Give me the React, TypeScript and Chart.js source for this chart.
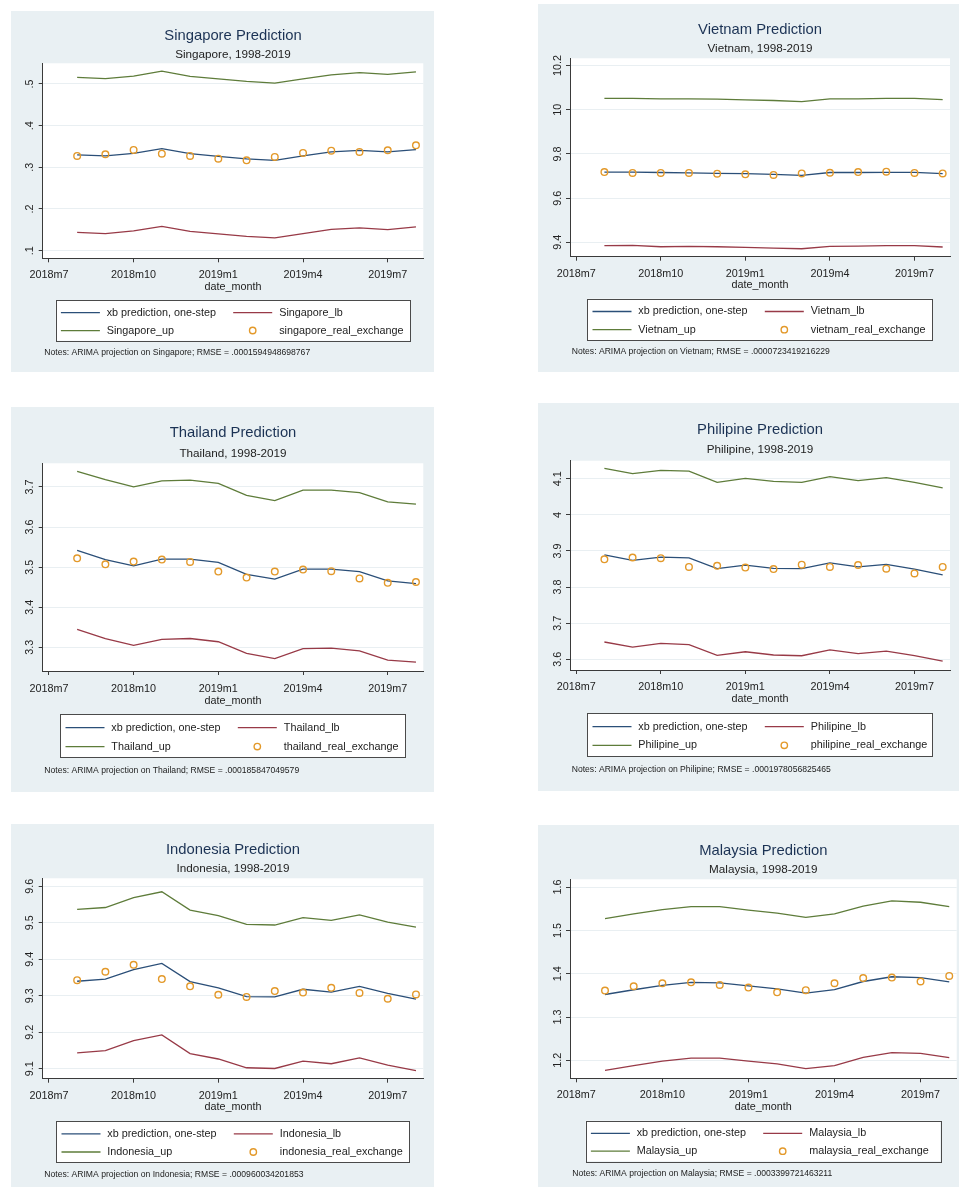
import React, { useEffect, useRef } from "react";
import { Chart, registerables } from "chart.js";

Chart.register(...registerables);

// ---------------- DATA ----------------
const months = ["2018m8", "2018m9", "2018m10", "2018m11", "2018m12", "2019m1", "2019m2", "2019m3", "2019m4", "2019m5", "2019m6", "2019m7", "2019m8"];
const xTickLabels = ["2018m7", "2018m10", "2019m1", "2019m4", "2019m7"];
const xTitle = "date_month";

const singaporeXb = [0.3296, 0.3272, 0.3336, 0.3448, 0.3328, 0.3264, 0.32, 0.3168, 0.3272, 0.3368, 0.3408, 0.3368, 0.3424];
const singaporeLb = [0.144, 0.1408, 0.1472, 0.1584, 0.1464, 0.14, 0.1344, 0.1304, 0.1408, 0.1512, 0.1544, 0.1504, 0.1568];
const singaporeUp = [0.516, 0.513, 0.519, 0.531, 0.518, 0.512, 0.506, 0.502, 0.512, 0.522, 0.527, 0.523, 0.529];
const singaporeReal = [0.3272, 0.3312, 0.3416, 0.3328, 0.3272, 0.3208, 0.3168, 0.3248, 0.3344, 0.34, 0.3368, 0.3408, 0.3528];
const singaporeYTicks = [".1", ".2", ".3", ".4", ".5"];

const vietnamXb = [9.718, 9.718, 9.716, 9.714, 9.712, 9.711, 9.708, 9.703, 9.716, 9.716, 9.717, 9.717, 9.711];
const vietnamLb = [9.385, 9.386, 9.38, 9.382, 9.38, 9.377, 9.374, 9.371, 9.382, 9.383, 9.385, 9.385, 9.379];
const vietnamUp = [10.052, 10.052, 10.049, 10.049, 10.048, 10.045, 10.042, 10.037, 10.049, 10.049, 10.052, 10.052, 10.046];
const vietnamReal = [9.718, 9.714, 9.714, 9.714, 9.711, 9.708, 9.705, 9.712, 9.715, 9.718, 9.72, 9.714, 9.712];
const vietnamYTicks = ["9.4", "9.6", "9.8", "10", "10.2"];

const thailandXb = [3.542, 3.519, 3.503, 3.52, 3.52, 3.512, 3.482, 3.47, 3.495, 3.495, 3.489, 3.466, 3.459];
const thailandLb = [3.345, 3.322, 3.305, 3.32, 3.322, 3.314, 3.285, 3.272, 3.297, 3.298, 3.291, 3.268, 3.263];
const thailandUp = [3.739, 3.718, 3.7, 3.715, 3.717, 3.709, 3.679, 3.666, 3.692, 3.692, 3.686, 3.663, 3.657];
const thailandReal = [3.522, 3.507, 3.514, 3.519, 3.513, 3.489, 3.474, 3.489, 3.494, 3.49, 3.472, 3.461, 3.463];
const thailandYTicks = ["3.3", "3.4", "3.5", "3.6", "3.7"];

const philipineXb = [3.889, 3.874, 3.883, 3.881, 3.851, 3.861, 3.852, 3.851, 3.867, 3.856, 3.863, 3.85, 3.834];
const philipineLb = [3.648, 3.634, 3.644, 3.641, 3.611, 3.621, 3.612, 3.61, 3.626, 3.616, 3.623, 3.61, 3.595];
const philipineUp = [4.129, 4.114, 4.123, 4.121, 4.09, 4.101, 4.093, 4.09, 4.106, 4.095, 4.103, 4.09, 4.075];
const philipineReal = [3.877, 3.882, 3.88, 3.856, 3.859, 3.854, 3.85, 3.862, 3.856, 3.861, 3.851, 3.838, 3.856];
const philipineYTicks = ["3.6", "3.7", "3.8", "3.9", "4", "4.1"];

const indonesiaXb = [9.34, 9.346, 9.372, 9.389, 9.339, 9.322, 9.298, 9.297, 9.318, 9.31, 9.326, 9.307, 9.291];
const indonesiaLb = [9.144, 9.15, 9.177, 9.193, 9.142, 9.127, 9.103, 9.101, 9.121, 9.114, 9.13, 9.11, 9.095];
const indonesiaUp = [9.537, 9.542, 9.569, 9.585, 9.535, 9.52, 9.496, 9.494, 9.514, 9.507, 9.522, 9.502, 9.488];
const indonesiaReal = [9.343, 9.366, 9.385, 9.346, 9.326, 9.303, 9.297, 9.313, 9.309, 9.322, 9.308, 9.292, 9.304];
const indonesiaYTicks = ["9.1", "9.2", "9.3", "9.4", "9.5", "9.6"];

const malaysiaXb = [1.352, 1.363, 1.373, 1.38, 1.379, 1.372, 1.365, 1.355, 1.363, 1.382, 1.393, 1.391, 1.381];
const malaysiaLb = [1.177, 1.188, 1.198, 1.205, 1.205, 1.198, 1.192, 1.181, 1.188, 1.207, 1.218, 1.216, 1.206];
const malaysiaUp = [1.527, 1.538, 1.548, 1.555, 1.555, 1.547, 1.54, 1.53, 1.538, 1.556, 1.568, 1.565, 1.555];
const malaysiaReal = [1.361, 1.371, 1.378, 1.38, 1.374, 1.368, 1.357, 1.362, 1.378, 1.39, 1.391, 1.382, 1.395];
const malaysiaYTicks = ["1.2", "1.3", "1.4", "1.5", "1.6"];

const panels = [
  { key: "sg", title: "Singapore Prediction", subtitle: "Singapore, 1998-2019", names: ["xb prediction, one-step", "Singapore_lb", "Singapore_up", "singapore_real_exchange"], note: "Notes: ARIMA projection on Singapore; RMSE = .0001594948698767", xb: singaporeXb, lb: singaporeLb, up: singaporeUp, real: singaporeReal, yTicks: singaporeYTicks, yMin: 0.0816, yMax: 0.5496 },
  { key: "vn", title: "Vietnam Prediction", subtitle: "Vietnam, 1998-2019", names: ["xb prediction, one-step", "Vietnam_lb", "Vietnam_up", "vietnam_real_exchange"], note: "Notes: ARIMA projection on Vietnam; RMSE = .0000723419216229", xb: vietnamXb, lb: vietnamLb, up: vietnamUp, real: vietnamReal, yTicks: vietnamYTicks, yMin: 9.335, yMax: 10.233 },
  { key: "th", title: "Thailand Prediction", subtitle: "Thailand, 1998-2019", names: ["xb prediction, one-step", "Thailand_lb", "Thailand_up", "thailand_real_exchange"], note: "Notes: ARIMA projection on Thailand; RMSE = .000185847049579", xb: thailandXb, lb: thailandLb, up: thailandUp, real: thailandReal, yTicks: thailandYTicks, yMin: 3.241, yMax: 3.759 },
  { key: "ph", title: "Philipine Prediction", subtitle: "Philipine, 1998-2019", names: ["xb prediction, one-step", "Philipine_lb", "Philipine_up", "philipine_real_exchange"], note: "Notes: ARIMA projection on Philipine; RMSE = .0001978056825465", xb: philipineXb, lb: philipineLb, up: philipineUp, real: philipineReal, yTicks: philipineYTicks, yMin: 3.5705, yMax: 4.15 },
  { key: "id", title: "Indonesia Prediction", subtitle: "Indonesia, 1998-2019", names: ["xb prediction, one-step", "Indonesia_lb", "Indonesia_up", "indonesia_real_exchange"], note: "Notes: ARIMA projection on Indonesia; RMSE = .000960034201853", xb: indonesiaXb, lb: indonesiaLb, up: indonesiaUp, real: indonesiaReal, yTicks: indonesiaYTicks, yMin: 9.073, yMax: 9.622 },
  { key: "my", title: "Malaysia Prediction", subtitle: "Malaysia, 1998-2019", names: ["xb prediction, one-step", "Malaysia_lb", "Malaysia_up", "malaysia_real_exchange"], note: "Notes: ARIMA projection on Malaysia; RMSE = .0003399721463211", xb: malaysiaXb, lb: malaysiaLb, up: malaysiaUp, real: malaysiaReal, yTicks: malaysiaYTicks, yMin: 1.1585, yMax: 1.618 },
];

// ---------------- LAYOUT (positions / sizes) ----------------
const LAYOUT: Record<string, any> = {
  sg: { bg: { x: 11, y: 11, w: 423, h: 361 }, plot: { l: 31.7, t: 52.3, r: 412.3, b: 247.3 }, titleY: 23.3, subY: 43.3, xLabY: 263, xTitleY: 275.7, legend: { l: 44.7, t: 289, r: 399, b: 329.7 }, notes: { x: 33.3, y: 341.3 } },
  vn: { bg: { x: 538, y: 4, w: 421, h: 368 }, plot: { l: 32, t: 54.3, r: 412, b: 252.7 }, titleY: 24.3, subY: 45, xLabY: 268.7, xTitleY: 281, legend: { l: 49.3, t: 294.7, r: 394, b: 336 }, notes: { x: 33.7, y: 348 } },
  th: { bg: { x: 11, y: 407, w: 423, h: 385 }, plot: { l: 31.7, t: 56.3, r: 412.3, b: 264 }, titleY: 24.7, subY: 46.3, xLabY: 280.3, xTitleY: 293.7, legend: { l: 49.3, t: 307.3, r: 394, b: 350.3 }, notes: { x: 33.3, y: 363.7 } },
  ph: { bg: { x: 538, y: 403, w: 421, h: 388 }, plot: { l: 32, t: 57.7, r: 412, b: 267 }, titleY: 25.3, subY: 47, xLabY: 283, xTitleY: 296, legend: { l: 49.3, t: 310.3, r: 394, b: 353 }, notes: { x: 33.7, y: 366.7 } },
  id: { bg: { x: 11, y: 824, w: 423, h: 363 }, plot: { l: 31.7, t: 54.3, r: 412.3, b: 254.7 }, titleY: 24.3, subY: 44.7, xLabY: 270.7, xTitleY: 283, legend: { l: 45.3, t: 297, r: 398.3, b: 338.3 }, notes: { x: 33.3, y: 351 } },
  my: { bg: { x: 538, y: 825, w: 421, h: 362 }, plot: { l: 32, t: 54.3, r: 418.7, b: 253.3 }, titleY: 24, subY: 44.3, xLabY: 269, xTitleY: 281.7, legend: { l: 47.7, t: 295.7, r: 402.3, b: 336.3 }, notes: { x: 34.3, y: 348.3 } },
};

const X_MIN = -0.22;
const X_MAX = 13.26;

const FONT = "'Liberation Sans', Arial, Helvetica, sans-serif";
const BG = "#e9f0f3";
const TITLE_COLOR = "#1b3254";
const TEXT = "#222222";
const AXIS = "#3a3a3a";
const GRID = "#e9eff2";
const NAVY = "#2b4f78";
const MAROON = "#983a47";
const GREEN = "#5e7c3a";
const ORANGE = "#e3992a";

const TITLE_SIZE = 14.8;
const SUB_SIZE = 11.7;
const TICK_SIZE = 10.8;
const NOTE_SIZE = 8.6;
const TICK_LEN = 4;
const TITLE_SHIFT = 1.6;
const XLAB_SHIFT = 1.5;

function monthIndex(s: string): number {
  const [y, m] = s.split("m").map(Number);
  return (y - 2018) * 12 + m - 7;
}

function PanelChart({ p }: { p: any }) {
  const ref = useRef<HTMLCanvasElement>(null);
  const g = LAYOUT[p.key];

  useEffect(() => {
    const canvas = ref.current as HTMLCanvasElement;
    const toPts = (vals: number[]) => months.map((m, i) => ({ x: monthIndex(m), y: vals[i] }));

    const titleLh = TITLE_SIZE * 1.2;
    const subLh = SUB_SIZE * 1.2;
    const tickLh = TICK_SIZE * 1.2;
    const titleY = g.titleY + TITLE_SHIFT;
    const titlePadTop = titleY - titleLh / 2;
    const titleBottom = titleY + titleLh / 2;
    const subPadTop = Math.max(0, g.subY - subLh / 2 - titleBottom);
    const subPadBottom = g.plot.t - (titleBottom + subPadTop + subLh);
    const xScaleH = g.xTitleY + tickLh / 2 - g.plot.b;
    const xTickPad = g.xLabY + XLAB_SHIFT - tickLh / 2 - TICK_LEN - g.plot.b;
    const padBottom = g.bg.h - g.plot.b - xScaleH;
    const padRight = g.bg.w - g.plot.r;

    const deco = {
      id: "deco",
      beforeDraw(chart: any) {
        const ctx = chart.ctx;
        const a = chart.chartArea;
        ctx.save();
        ctx.fillStyle = BG;
        ctx.fillRect(0, 0, chart.width, chart.height);
        ctx.fillStyle = "#ffffff";
        ctx.fillRect(a.left, a.top, a.right - a.left, a.bottom - a.top);
        ctx.restore();
      },
      afterDraw(chart: any) {
        const ctx = chart.ctx;
        const ys = chart.scales.y;
        const a = chart.chartArea;
        ctx.save();
        // rotated y tick labels (Stata style)
        ctx.font = `${TICK_SIZE}px ${FONT}`;
        ctx.fillStyle = TEXT;
        ctx.textAlign = "center";
        ctx.textBaseline = "middle";
        p.yTicks.forEach((lab: string) => {
          const py = ys.getPixelForValue(parseFloat(lab));
          ctx.save();
          ctx.translate(a.left - 12.3, py);
          ctx.rotate(-Math.PI / 2);
          ctx.fillText(lab, 0, 0);
          ctx.restore();
        });
        // legend box
        const L = g.legend;
        ctx.fillStyle = "#ffffff";
        ctx.fillRect(L.l, L.t, L.r - L.l, L.b - L.t);
        ctx.strokeStyle = "#4a4a4a";
        ctx.lineWidth = 1;
        ctx.strokeRect(Math.round(L.l) + 0.5, Math.round(L.t) + 0.5, Math.round(L.r - L.l), Math.round(L.b - L.t));
        const rows = [L.t + (L.b - L.t) * 0.31, L.t + (L.b - L.t) * 0.75];
        chart.data.datasets.forEach((ds: any, i: number) => {
          const row = rows[Math.floor(i / 2)];
          const col = i % 2;
          const x0 = L.l + (col ? 177.5 : 5.2);
          const x1 = x0 + 39;
          const tx = L.l + (col ? 223.5 : 51);
          if (ds.showLine === false) {
            ctx.beginPath();
            ctx.arc(L.l + 197, row, 3.2, 0, Math.PI * 2);
            ctx.strokeStyle = ds.borderColor;
            ctx.lineWidth = 1.4;
            ctx.stroke();
          } else {
            ctx.beginPath();
            ctx.moveTo(x0, row);
            ctx.lineTo(x1, row);
            ctx.strokeStyle = ds.borderColor;
            ctx.lineWidth = 1.3;
            ctx.stroke();
          }
          ctx.fillStyle = TEXT;
          ctx.font = `${TICK_SIZE}px ${FONT}`;
          ctx.textAlign = "left";
          ctx.textBaseline = "middle";
          ctx.fillText(ds.label, tx, row);
        });
        // notes
        ctx.font = `${NOTE_SIZE}px ${FONT}`;
        ctx.fillStyle = TEXT;
        ctx.textAlign = "left";
        ctx.textBaseline = "middle";
        ctx.fillText(p.note, g.notes.x, g.notes.y);
        ctx.restore();
      },
    };

    const lineDs = (label: string, vals: number[], color: string) => ({
      label,
      data: toPts(vals),
      borderColor: color,
      backgroundColor: color,
      borderWidth: 1.3,
      pointRadius: 0,
      fill: false,
      tension: 0,
    });

    const chart = new Chart(canvas, {
      type: "line",
      data: {
        datasets: [
          lineDs(p.names[0], p.xb, NAVY),
          lineDs(p.names[1], p.lb, MAROON),
          lineDs(p.names[2], p.up, GREEN),
          {
            label: p.names[3],
            data: toPts(p.real),
            showLine: false,
            borderColor: ORANGE,
            backgroundColor: "rgba(0,0,0,0)",
            pointRadius: 3.3,
            pointBorderWidth: 1.4,
            pointStyle: "circle",
            order: -1,
          },
        ],
      },
      options: {
        responsive: false,
        animation: false,
        devicePixelRatio: 1,
        events: [],
        layout: { autoPadding: false, padding: { top: 0, left: 0, right: padRight, bottom: padBottom } },
        plugins: {
          legend: { display: false },
          tooltip: { enabled: false },
          title: {
            display: true,
            text: p.title,
            fullSize: false,
            color: TITLE_COLOR,
            font: { family: FONT, size: TITLE_SIZE, weight: "normal", lineHeight: 1.2 },
            padding: { top: titlePadTop, bottom: 0 },
          },
          subtitle: {
            display: true,
            text: p.subtitle,
            fullSize: false,
            color: TEXT,
            font: { family: FONT, size: SUB_SIZE, weight: "normal", lineHeight: 1.2 },
            padding: { top: subPadTop, bottom: subPadBottom },
          },
        },
        scales: {
          x: {
            type: "linear",
            min: X_MIN,
            max: X_MAX,
            afterBuildTicks: (s: any) => {
              s.ticks = xTickLabels.map((l) => ({ value: monthIndex(l) }));
            },
            afterFit: (s: any) => {
              s.height = xScaleH;
            },
            ticks: {
              callback: (_v: any, i: number) => xTickLabels[i],
              color: TEXT,
              font: { family: FONT, size: TICK_SIZE, lineHeight: 1.2 },
              padding: xTickPad,
              maxRotation: 0,
              minRotation: 0,
              autoSkip: false,
            },
            grid: { drawOnChartArea: false, drawTicks: true, tickLength: TICK_LEN, tickColor: AXIS, color: AXIS },
            border: { display: true, color: AXIS, width: 1 },
            title: { display: true, text: xTitle, color: TEXT, font: { family: FONT, size: TICK_SIZE, lineHeight: 1.2 }, padding: 0 },
          },
          y: {
            type: "linear",
            min: p.yMin,
            max: p.yMax,
            afterBuildTicks: (s: any) => {
              s.ticks = p.yTicks.map((l: string) => ({ value: parseFloat(l) }));
            },
            afterFit: (s: any) => {
              s.width = g.plot.l;
            },
            ticks: { display: false, callback: (_v: any, i: number) => p.yTicks[i] },
            grid: { color: GRID, lineWidth: 1, drawTicks: true, tickLength: TICK_LEN, tickColor: AXIS },
            border: { display: true, color: AXIS, width: 1 },
          },
        },
      } as any,
      plugins: [deco],
    } as any);

    return () => chart.destroy();
  }, []);

  return (
    <canvas
      ref={ref}
      width={g.bg.w}
      height={g.bg.h}
      style={{ position: "absolute", left: g.bg.x, top: g.bg.y, width: g.bg.w, height: g.bg.h }}
    />
  );
}

export default function App() {
  return (
    <div style={{ position: "absolute", left: 0, top: 0, width: 959, height: 1187, background: "#ffffff", overflow: "hidden" }}>
      {panels.map((p) => (
        <PanelChart key={p.key} p={p} />
      ))}
    </div>
  );
}
